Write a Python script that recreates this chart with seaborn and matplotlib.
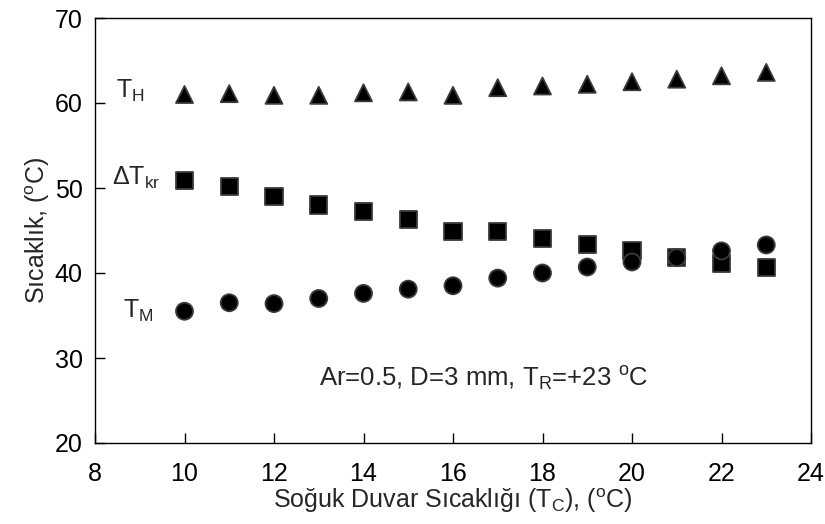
import numpy as np
import pandas as pd
import matplotlib
matplotlib.use("Agg")
import matplotlib.pyplot as plt
import seaborn as sns

sns.set_theme(style="ticks", rc={
    "xtick.direction": "in", "ytick.direction": "in",
    "xtick.major.size": 7, "ytick.major.size": 7,
    "xtick.major.width": 1.0, "ytick.major.width": 1.0,
    "xtick.color": "black", "ytick.color": "black",
    "xtick.bottom": True, "ytick.left": True,
})
plt.rcParams['font.family'] = ['Liberation Sans', 'DejaVu Sans']
plt.rcParams['mathtext.fontset'] = 'custom'
plt.rcParams['mathtext.rm'] = 'Liberation Sans'
plt.rcParams['mathtext.it'] = 'Liberation Sans'

tc = [10, 11, 12, 13, 14, 15, 16, 17, 18, 19, 20, 21, 22, 23]
t_h = [61.0, 61.1, 60.9, 60.9, 61.2, 61.3, 60.9, 61.8, 62.0, 62.2, 62.5, 62.8, 63.2, 63.6]
dt_kr = [50.9, 50.2, 49.0, 48.0, 47.2, 46.3, 44.9, 44.9, 44.1, 43.3, 42.7, 41.8, 41.1, 40.6]
t_m = [35.5, 36.5, 36.4, 37.0, 37.6, 38.1, 38.5, 39.4, 40.0, 40.7, 41.3, 41.8, 42.6, 43.3]

series_names = ["TH", "DTkr", "TM"]
df = pd.DataFrame({
    "Tc": tc * 3,
    "T": t_h + dt_kr + t_m,
    "series": [series_names[0]] * len(tc) + [series_names[1]] * len(tc) + [series_names[2]] * len(tc),
})

fig = plt.figure(figsize=(8.25, 5.24), dpi=100)
ax = fig.add_axes([95 / 825, 1 - 443 / 524, (811 - 95) / 825, (443 - 18) / 524])

sns.scatterplot(data=df, x="Tc", y="T", hue="series", style="series",
                markers={"TH": "^", "DTkr": "s", "TM": "o"},
                palette={"TH": "black", "DTkr": "black", "TM": "black"},
                s=150, edgecolor="#3a3a3a", linewidth=1.3, legend=False, ax=ax, zorder=3)

ax.set_xlim(8, 24)
ax.set_ylim(20, 70)
ax.set_xticks(np.arange(8, 25, 2))
ax.set_yticks(np.arange(20, 71, 10))
ax.tick_params(which="major", direction="in", length=7, width=1.0, colors="black",
               labelsize=18, top=False, right=False, bottom=True, left=True)
ax.tick_params(axis="x", pad=14)
ax.tick_params(axis="y", pad=9)
for tl in ax.get_xticklines() + ax.get_yticklines():
    tl.set_zorder(5)
for sp in ax.spines.values():
    sp.set_color("black")
    sp.set_linewidth(1.0)
    sp.set_visible(True)

ax.set_xlabel(r"Soğuk Duvar Sıcaklığı (T$_\mathrm{C}$), ($^\mathrm{o}$C)", fontsize=18, labelpad=0)
ax.set_ylabel(r"Sıcaklık, ($^\mathrm{o}$C)", fontsize=18, labelpad=2)

ax.text(8.47, 60.6, r"T$_\mathrm{H}$", fontsize=18, ha="left", va="baseline")
ax.text(8.38, 50.35, r"ΔT$_\mathrm{kr}$", fontsize=18, ha="left", va="baseline")
ax.text(8.63, 34.7, r"T$_\mathrm{M}$", fontsize=18, ha="left", va="baseline")
ax.text(13.0, 26.6, r"Ar=0.5, D=3 mm, T$_\mathrm{R}$=+23 $^\mathrm{o}$C", fontsize=18.5,
        ha="left", va="baseline")

fig.savefig("out.png", dpi=100)
